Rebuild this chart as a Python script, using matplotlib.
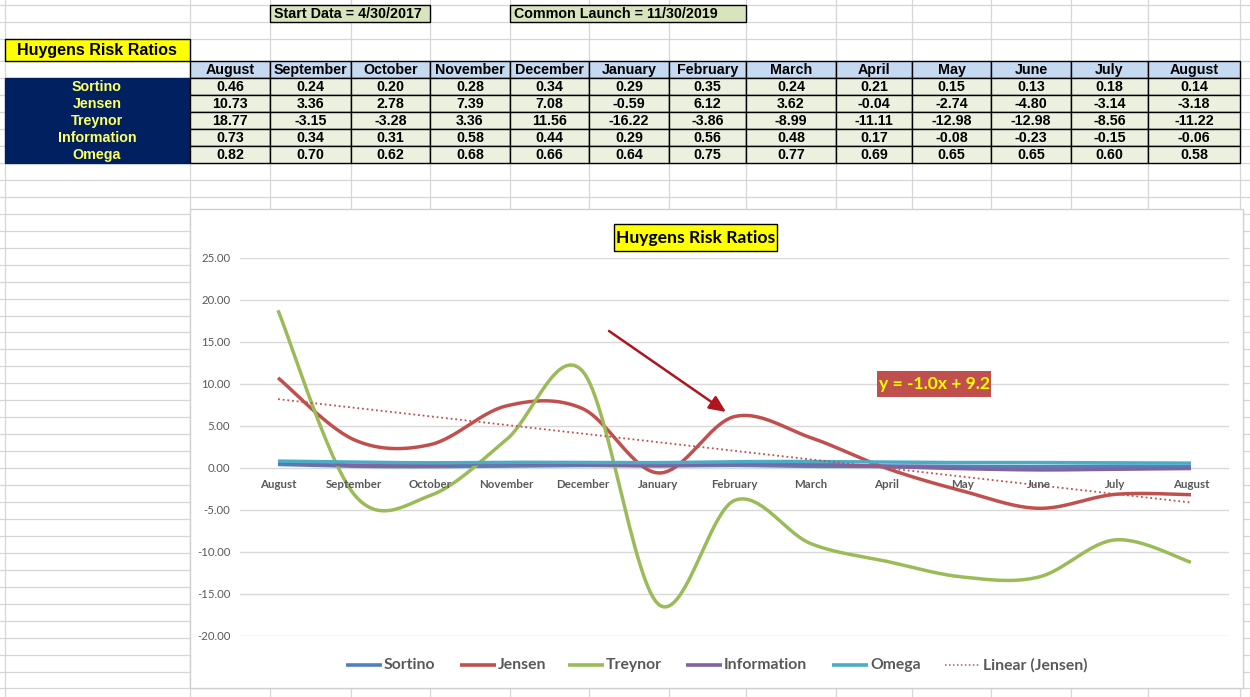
import numpy as np
import matplotlib
matplotlib.use("Agg")
import matplotlib.pyplot as plt
from matplotlib.patches import Rectangle
from matplotlib import transforms

# ---------------- data ----------------
months = ["August", "September", "October", "November", "December", "January",
          "February", "March", "April", "May", "June", "July", "August"]
series_names = ["Sortino", "Jensen", "Treynor", "Information", "Omega"]
sortino = [0.46, 0.24, 0.20, 0.28, 0.34, 0.29, 0.35, 0.24, 0.21, 0.15, 0.13, 0.18, 0.14]
jensen = [10.73, 3.36, 2.78, 7.39, 7.08, -0.59, 6.12, 3.62, -0.04, -2.74, -4.80, -3.14, -3.18]
treynor = [18.77, -3.15, -3.28, 3.36, 11.56, -16.22, -3.86, -8.99, -11.11, -12.98, -12.98, -8.56, -11.22]
information = [0.73, 0.34, 0.31, 0.58, 0.44, 0.29, 0.56, 0.48, 0.17, -0.08, -0.23, -0.15, -0.06]
omega = [0.82, 0.70, 0.62, 0.68, 0.66, 0.64, 0.75, 0.77, 0.69, 0.65, 0.65, 0.60, 0.58]
yticks = [25, 20, 15, 10, 5, 0, -5, -10, -15, -20]
start_text = "Start Data = 4/30/2017"
launch_text = "Common Launch = 11/30/2019"
title_text = "Huygens Risk Ratios"
trend_label = "y = -1.0x + 9.2"

series = [sortino, jensen, treynor, information, omega]
colors = ["#4F81BD", "#C0504D", "#9BBB59", "#8064A2", "#4BACC6"]

W, H = 1250, 697
fig = plt.figure(figsize=(W / 100, H / 100), dpi=100)
fig.patch.set_facecolor("white")

NARROW = ["Liberation Sans Narrow", "Liberation Sans", "DejaVu Sans"]
ARIAL = ["Liberation Sans", "DejaVu Sans"]
CAL = ["Lato", "DejaVu Sans"]
TFS = 10.3

# background "spreadsheet" axes in pixel coordinates
bg = fig.add_axes([0, 0, 1, 1])
bg.set_xlim(0, W)
bg.set_ylim(H, 0)
bg.axis("off")

gridc = "#D6D6D6"
col_x = [5, 190, 270, 351, 430, 510, 589, 669, 746, 836, 912, 991, 1071, 1148, 1240]
row_y = [5, 22, 39, 61, 78, 95, 112, 129, 146, 163]
y = 163.0
while y < H:
    y += 16.95
    row_y.append(y)
for xv in col_x:
    bg.plot([xv, xv], [0, H], color=gridc, lw=0.9, zorder=1)
for yv in row_y:
    bg.plot([0, W], [yv, yv], color=gridc, lw=0.9, zorder=1)

def cell(x0, y0, x1, y1, fc, ec="black", lw=1.0, z=2):
    bg.add_patch(Rectangle((x0, y0), x1 - x0, y1 - y0, facecolor=fc,
                           edgecolor=ec, lw=lw, zorder=z))

# top info boxes
cell(270, 5, 430, 22, "#D8E4BC")
bg.text(274, 14, start_text, fontsize=TFS, fontweight="bold", family=NARROW,
        va="center", ha="left", zorder=3)
cell(510, 5, 746, 22, "#D8E4BC")
bg.text(514, 14, launch_text, fontsize=TFS, fontweight="bold", family=NARROW,
        va="center", ha="left", zorder=3)

# table title
cell(5, 39, 190, 61, "#FFFF00")
bg.text(97, 50.5, title_text, fontsize=11.5, fontweight="bold", family=ARIAL,
        va="center", ha="center", zorder=3)

# header row
for i, m in enumerate(months):
    x0, x1 = col_x[i + 1], col_x[i + 2]
    cell(x0, 61, x1, 78, "#C5D9F1")
    bg.text((x0 + x1) / 2, 70, m, fontsize=TFS, fontweight="bold", family=NARROW,
            va="center", ha="center", zorder=3)

# label column and values
cell(5, 78, 190, 163, "#002060", ec="#002060")
for r, name in enumerate(series_names):
    yc = 78 + 17 * r + 8.8
    bg.text(97, yc, name, fontsize=TFS, fontweight="bold", family=NARROW,
            color="#FFFF66", va="center", ha="center", zorder=3)
    vals = series[r]
    for i, v in enumerate(vals):
        x0, x1 = col_x[i + 1], col_x[i + 2]
        cell(x0, 78 + 17 * r, x1, 95 + 17 * r, "#EBF1DE")
        bg.text((x0 + x1) / 2, yc, f"{v:.2f}", fontsize=TFS, fontweight="bold",
                family=NARROW, va="center", ha="center", zorder=3)

# chart area
cell(190, 209, 1243, 688, "white", ec="#D0D0D0", lw=1.0, z=4)

# ---------------- chart ----------------
L, R, T, B = 240, 1229, 258, 636
ax = fig.add_axes([L / W, 1 - B / H, (R - L) / W, (B - T) / H], zorder=5)
ax.set_facecolor("none")
ax.set_xlim(-0.5, len(months) - 0.5)
ax.set_ylim(-20, 25)
for s in ax.spines.values():
    s.set_visible(False)
ax.set_xticks([])
ax.set_yticks(yticks)
ax.set_yticklabels([f"{t:.2f}" for t in yticks], fontsize=8.2, color="#595959",
                   family=CAL)
ax.tick_params(axis="y", length=0, pad=7)
ax.grid(axis="y", color="#D9D9D9", lw=1.0)
ax.set_axisbelow(True)

def excel_smooth(xs, ys, n=30):
    xs = np.asarray(xs, float)
    ys = np.asarray(ys, float)
    px = np.concatenate([[xs[0]], xs, [xs[-1]]])
    py = np.concatenate([[ys[0]], ys, [ys[-1]]])
    outx, outy = [], []
    t = np.linspace(0, 1, n)
    for i in range(1, len(px) - 2):
        p0 = np.array([px[i], py[i]])
        p3 = np.array([px[i + 1], py[i + 1]])
        c1 = p0 + (p3 - np.array([px[i - 1], py[i - 1]])) / 6.0
        c2 = p3 - (np.array([px[i + 2], py[i + 2]]) - p0) / 6.0
        b = ((1 - t) ** 3)[:, None] * p0 + (3 * (1 - t) ** 2 * t)[:, None] * c1 \
            + (3 * (1 - t) * t ** 2)[:, None] * c2 + (t ** 3)[:, None] * p3
        outx.extend(b[:, 0])
        outy.extend(b[:, 1])
    return np.array(outx), np.array(outy)

xcat = np.arange(len(months))
lws = [3.0, 2.5, 2.5, 2.5, 2.5]
for name, vals, c, lw in zip(series_names, series, colors, lws):
    sx, sy = excel_smooth(xcat, vals)
    ax.plot(sx, sy, color=c, lw=lw, solid_capstyle="butt", label=name)

# linear trend of Jensen
xt = xcat + 1
slope, intercept = np.polyfit(xt, jensen, 1)
ax.plot(xcat, slope * xt + intercept, color="#C0504D", lw=1.3,
        linestyle=(0, (1, 1.6)), label="Linear (Jensen)")

# category labels along zero line
off = transforms.offset_copy(ax.transData, fig=fig, x=0, y=-16, units="dots")
for i, m in enumerate(months):
    ax.text(i, 0, m, transform=off, fontsize=8.3, fontweight="bold",
            color="#595959", family=CAL, ha="center", va="center")

# overlay in pixel coordinates
ov = fig.add_axes([0, 0, 1, 1], zorder=6)
ov.set_xlim(0, W)
ov.set_ylim(H, 0)
ov.axis("off")
ov.add_patch(Rectangle((614, 224), 163, 27, facecolor="#FFFF00",
                       edgecolor="black", lw=1.0))
ov.text(695.5, 238, title_text, fontsize=12.6, fontweight="bold", family=CAL,
        ha="center", va="center")

ov.add_patch(Rectangle((877, 371), 114, 26, facecolor="#C0504D", edgecolor="none"))
ov.text(934, 384.5, trend_label, fontsize=12.6, fontweight="bold", family=CAL,
        color="#FFFF00", ha="center", va="center")

ov.annotate("", xy=(726, 412), xytext=(609, 331),
            arrowprops=dict(arrowstyle="-|>,head_length=1.0,head_width=0.45",
                            color="#B0141E", lw=1.8, shrinkA=0, shrinkB=0))

# legend
leg_items = [("Sortino", 346, colors[0], "-"), ("Jensen", 460, colors[1], "-"),
             ("Treynor", 568, colors[2], "-"), ("Information", 686, colors[3], "-"),
             ("Omega", 832, colors[4], "-"), ("Linear (Jensen)", 945, "#C0504D", ":")]
for lab, x0, c, ls in leg_items:
    if ls == "-":
        ov.plot([x0, x0 + 36], [665, 665], color=c, lw=2.6, solid_capstyle="butt")
    else:
        ov.plot([x0, x0 + 34], [665, 665], color=c, lw=1.1, linestyle=(0, (1, 1.6)))
    ov.text(x0 + 38, 665, lab, fontsize=11.3, fontweight="bold", color="#595959",
            family=CAL, ha="left", va="center")

fig.savefig("out.png", dpi=100)
